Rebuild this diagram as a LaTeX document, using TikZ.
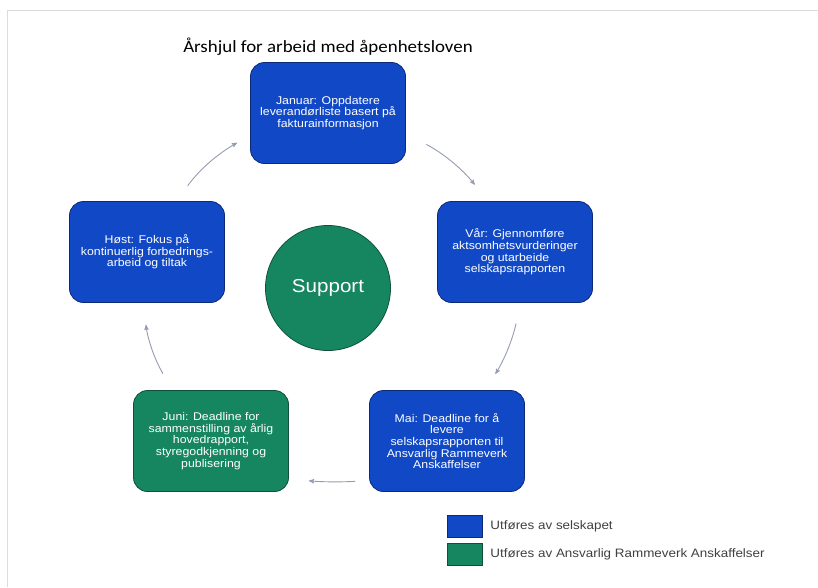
\documentclass[tikz,border=0pt]{standalone}
\usepackage{fontspec}
\setmainfont{Liberation Sans}[FakeStretch=1.1]
\newfontfamily\headfont{Carlito}[FakeStretch=1.1]
\usepackage{tikz}
\usetikzlibrary{arrows}
\usetikzlibrary{positioning}
\definecolor{selskapblue}{RGB}{16,72,198}
\definecolor{selskapedge}{RGB}{12,42,120}
\definecolor{rammegreen}{RGB}{22,134,96}
\definecolor{rammeedge}{RGB}{14,80,58}
\definecolor{arrowgray}{RGB}{150,156,176}
\definecolor{framegray}{RGB}{220,220,220}
\tikzset{
    task/.style={
           rectangle,
           rounded corners=14pt,
           draw=selskapedge, thick,
           fill=selskapblue,
           text=white,
           minimum width=155pt,
           minimum height=101pt,
           inner sep=2pt,
           align=center,
           font=\fontsize{11.2}{11.6}\selectfont,
           },
    rtask/.style={
           task,
           draw=rammeedge,
           fill=rammegreen,
           },
    flow/.style={
           ->, >=stealth',
           draw=arrowgray,
           line width=0.9pt,
           },
    legbox/.style={
           rectangle,
           draw=selskapedge,
           minimum width=35pt,
           minimum height=22pt,
           },
    legtext/.style={
           on grid=false,
           text=black!75,
           inner sep=0pt,
           font=\fontsize{12.2}{14}\selectfont,
           },
}

\begin{document}
\begin{tikzpicture}[x=1pt,y=-1pt,on grid]
 \useasboundingbox (0,0) rectangle (818,587);
 \draw[framegray, line width=1pt] (818,10) -| (7,587);

 % centre of the wheel
 \node[circle,
 draw=rammeedge, thick,
 fill=rammegreen,
 minimum size=125pt,
 text=white,
 font=\fontsize{18.7}{20}\selectfont] (SUP) at (328,288) {Support};

 % the five periods
 \node[task,
 above=175pt of SUP] (JAN)
 {Januar: Oppdatere\\leverandørliste basert på\\fakturainformasjon};
 \node[task,
 above right=36pt and 187pt of SUP] (VAR)
 {Vår: Gjennomføre\\aktsomhetsvurderinger\\og utarbeide\\selskapsrapporten};
 \node[task,
 below right=153pt and 119pt of SUP] (MAI)
 {Mai: Deadline for å\\levere\\selskapsrapporten til\\Ansvarlig Rammeverk\\Anskaffelser};
 \node[rtask,
 below left=153pt and 117pt of SUP] (JUNI)
 {Juni: Deadline for\\sammenstilling av årlig\\hovedrapport,\\styregodkjenning og\\publisering};
 \node[task,
 above left=36pt and 181pt of SUP] (HOST)
 {Høst: Fokus på\\kontinuerlig forbedrings-\\arbeid og tiltak};

 \node[font=\headfont\fontsize{17.2}{20}\selectfont,
 text=black,
 above=66pt of JAN] (TITLE) {Årshjul for arbeid med åpenhetsloven};

 \path
  (HOST.60) edge[flow, bend left=12, shorten <=19pt, shorten >=15pt] (JAN.196)
  (JAN.345) edge[flow, bend left=12, shorten <=23pt, shorten >=21pt] (VAR.118)
  (VAR.276) edge[flow, bend left=10, shorten <=21pt, shorten >=19pt] (MAI.53)
  (MAI.207) edge[flow, bend left=4, shorten <=14pt, shorten >=20pt] (JUNI.334)
  (JUNI.127) edge[flow, bend left=12, shorten <=19pt, shorten >=22pt] (HOST.266)
 ;

 % legend
 \node[legbox, fill=selskapblue] (LEGB) at (464.5,526) {};
 \node[legbox, fill=rammegreen, draw=rammeedge, below=28pt of LEGB] (LEGG) {};
 \node[legtext, right=8pt of LEGB] (LEGBT) {Utføres av selskapet};
 \node[legtext, right=8pt of LEGG] (LEGGT) {Utføres av Ansvarlig Rammeverk Anskaffelser};
\end{tikzpicture}
\end{document}
